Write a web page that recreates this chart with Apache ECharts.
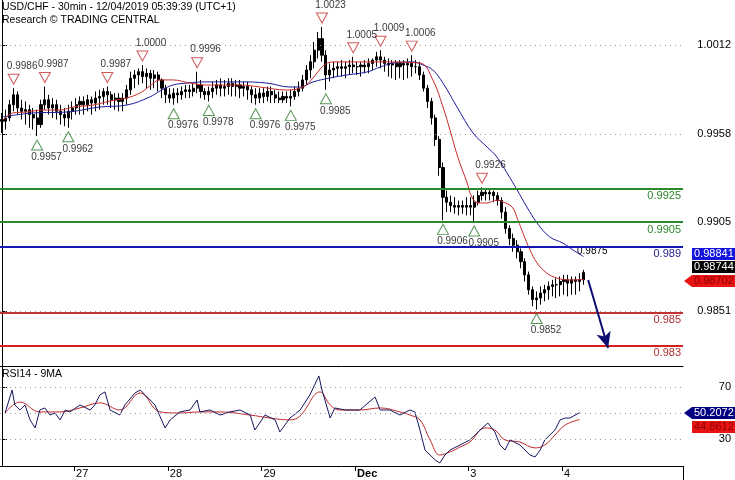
<!DOCTYPE html>
<html><head><meta charset="utf-8">
<script src="https://cdn.jsdelivr.net/npm/echarts@6/dist/echarts.min.js"></script>
<style>html,body{margin:0;padding:0;background:#fff}#c{width:735px;height:480px}</style>
</head><body><div id="c"></div>
<script>
const FONT = 'Liberation Sans, Arial, Helvetica, sans-serif';
const dayLabels = ['27', '28', '29', 'Dec', '3', '4'];
const dayStartSlots = [19, 43, 67, 91, 120, 144];
const slotCount = 175;
const priceTicks = [1.0012, 0.9958, 0.9905, 0.9851];
const rsiTicks = [70, 30];
const rsiGrid = [70, 50, 30];
const levelValues = [0.9925, 0.9905, 0.989, 0.985, 0.983];
// hourly bars: [open, close, low, high]
const ohlc = [
[0.9967,0.9966,0.9959,0.9971],[0.9966,0.9968,0.9961,0.9973],[0.9968,0.9976,0.9966,0.9979],[0.9976,0.9982,0.9972,0.9986],
[0.9982,0.9974,0.9970,0.9984],[0.9974,0.9972,0.9967,0.9979],[0.9972,0.9973,0.9964,0.9978],[0.9973,0.9970,0.9962,0.9976],
[0.9970,0.9968,0.9961,0.9974],[0.9968,0.9964,0.9957,0.9973],[0.9964,0.9976,0.9962,0.9979],[0.9976,0.9979,0.9973,0.9987],
[0.9979,0.9974,0.9970,0.9982],[0.9974,0.9976,0.9968,0.9980],[0.9976,0.9972,0.9967,0.9979],[0.9972,0.9970,0.9964,0.9976],
[0.9970,0.9968,0.9963,0.9974],[0.9968,0.9972,0.9962,0.9976],[0.9972,0.9974,0.9967,0.9978],[0.9974,0.9976,0.9970,0.9980],
[0.9976,0.9978,0.9970,0.9981],[0.9978,0.9976,0.9970,0.9981],[0.9976,0.9979,0.9972,0.9982],[0.9979,0.9977,0.9970,0.9981],
[0.9977,0.9980,0.9972,0.9984],[0.9980,0.9981,0.9973,0.9985],[0.9981,0.9984,0.9976,0.9986],[0.9984,0.9982,0.9976,0.9987],
[0.9982,0.9979,0.9974,0.9984],[0.9979,0.9980,0.9973,0.9983],[0.9980,0.9978,0.9972,0.9983],[0.9978,0.9980,0.9972,0.9983],
[0.9980,0.9985,0.9976,0.9988],[0.9985,0.9992,0.9982,0.9996],[0.9992,0.9994,0.9986,0.9997],[0.9994,0.9996,0.9988,0.9998],
[0.9996,0.9993,0.9989,1.0000],[0.9993,0.9995,0.9986,0.9998],[0.9995,0.9992,0.9985,0.9997],[0.9992,0.9994,0.9986,0.9997],
[0.9994,0.9991,0.9984,0.9996],[0.9991,0.9986,0.9980,0.9992],[0.9986,0.9982,0.9977,0.9988],[0.9982,0.9980,0.9977,0.9986],
[0.9980,0.9983,0.9976,0.9986],[0.9983,0.9982,0.9977,0.9986],[0.9982,0.9984,0.9979,0.9987],[0.9984,0.9985,0.9980,0.9988],
[0.9985,0.9984,0.9980,0.9988],[0.9984,0.9986,0.9981,0.9989],[0.9986,0.9988,0.9983,0.9996],[0.9988,0.9984,0.9980,0.9991],
[0.9984,0.9982,0.9979,0.9986],[0.9982,0.9984,0.9978,0.9987],[0.9984,0.9986,0.9980,0.9990],[0.9986,0.9988,0.9982,0.9991],
[0.9988,0.9986,0.9981,0.9992],[0.9986,0.9987,0.9981,0.9991],[0.9987,0.9989,0.9982,0.9992],[0.9989,0.9987,0.9981,0.9992],
[0.9987,0.9988,0.9981,0.9991],[0.9988,0.9986,0.9980,0.9991],[0.9986,0.9987,0.9981,0.9990],[0.9987,0.9985,0.9979,0.9990],
[0.9985,0.9982,0.9977,0.9987],[0.9982,0.9980,0.9976,0.9986],[0.9980,0.9983,0.9977,0.9986],[0.9983,0.9981,0.9977,0.9986],
[0.9981,0.9984,0.9978,0.9987],[0.9984,0.9982,0.9977,0.9987],[0.9982,0.9980,0.9977,0.9985],[0.9980,0.9979,0.9977,0.9984],
[0.9979,0.9981,0.9977,0.9984],[0.9981,0.9980,0.9977,0.9984],[0.9980,0.9981,0.9975,0.9985],[0.9981,0.9984,0.9979,0.9987],
[0.9984,0.9986,0.9981,0.9990],[0.9986,0.9991,0.9984,0.9994],[0.9991,0.9997,0.9988,1.0000],[0.9997,1.0002,0.9992,1.0006],
[1.0002,1.0009,0.9998,1.0014],[1.0009,1.0016,1.0004,1.0020],[1.0016,1.0006,1.0002,1.0023],[1.0006,0.9994,0.9985,1.0009],
[0.9994,0.9997,0.9990,1.0001],[0.9997,0.9998,0.9992,1.0002],[0.9998,0.9999,0.9993,1.0002],[0.9999,0.9998,0.9993,1.0003],
[0.9998,0.9999,0.9992,1.0002],[0.9999,1.0000,0.9994,1.0003],[1.0000,0.9999,0.9995,1.0005],[0.9999,0.9999,0.9994,1.0002],
[0.9999,1.0000,0.9993,1.0002],[1.0000,0.9999,0.9995,1.0003],[0.9999,1.0001,0.9995,1.0004],[1.0001,1.0003,0.9997,1.0004],
[1.0003,1.0005,0.9999,1.0008],[1.0005,1.0003,0.9998,1.0009],[1.0003,1.0001,0.9996,1.0005],[1.0001,1.0000,0.9993,1.0004],
[1.0000,1.0001,0.9992,1.0003],[1.0001,0.9999,0.9991,1.0003],[0.9999,1.0001,0.9992,1.0003],[1.0001,1.0000,0.9991,1.0003],
[1.0000,1.0001,0.9992,1.0004],[1.0001,0.9999,0.9993,1.0006],[0.9999,0.9999,0.9995,1.0003],[0.9999,0.9994,0.9991,1.0002],
[0.9994,0.9986,0.9984,0.9996],[0.9986,0.9978,0.9974,0.9988],[0.9978,0.9968,0.9964,0.9980],[0.9968,0.9955,0.9951,0.9970],
[0.9955,0.9938,0.9933,0.9957],[0.9938,0.9920,0.9906,0.9941],[0.9920,0.9917,0.9911,0.9924],[0.9917,0.9915,0.9911,0.9921],
[0.9915,0.9914,0.9910,0.9920],[0.9914,0.9915,0.9909,0.9918],[0.9915,0.9914,0.9910,0.9918],[0.9914,0.9915,0.9909,0.9920],
[0.9915,0.9914,0.9909,0.9920],[0.9914,0.9917,0.9905,0.9921],[0.9917,0.9921,0.9915,0.9924],[0.9921,0.9923,0.9918,0.9926],
[0.9923,0.9922,0.9918,0.9925],[0.9922,0.9923,0.9918,0.9925],[0.9923,0.9921,0.9917,0.9924],[0.9921,0.9918,0.9915,0.9923],
[0.9918,0.9911,0.9907,0.9920],[0.9911,0.9901,0.9898,0.9914],[0.9901,0.9895,0.9891,0.9903],[0.9895,0.9891,0.9887,0.9898],
[0.9891,0.9887,0.9883,0.9894],[0.9887,0.9881,0.9877,0.9889],[0.9881,0.9873,0.9869,0.9883],[0.9873,0.9864,0.9861,0.9875],
[0.9864,0.9858,0.9854,0.9866],[0.9858,0.9859,0.9852,0.9863],[0.9859,0.9862,0.9855,0.9866],[0.9862,0.9864,0.9857,0.9867],
[0.9864,0.9866,0.9858,0.9869],[0.9866,0.9867,0.9860,0.9870],[0.9867,0.9867,0.9859,0.9871],[0.9867,0.9869,0.9860,0.9872],
[0.9869,0.9870,0.9861,0.9873],[0.9870,0.9868,0.9860,0.9873],[0.9868,0.9870,0.9861,0.9872],[0.9870,0.9869,0.9861,0.9872],
[0.9869,0.9870,0.9863,0.9874],[0.9870,0.98744,0.9867,0.9876]
];
// moving averages: [hour index, price]
const maFast = [[0.3,0.99667],[2.8,0.99710],[6.4,0.99716],[10.5,0.99728],[14.9,0.99728],[18.2,0.99746],[23.3,0.99758],[27.7,0.99782],[32.0,0.99801],[35.4,0.99831],[37.9,0.99873],[40.5,0.99910],[43.8,0.99910],[48.2,0.99891],[52.5,0.99879],[61.0,0.99879],[66.1,0.99867],[73.0,0.99849],[77.1,0.99867],[79.7,0.99922],[82.3,0.99994],[84.8,1.00019],[89.2,1.00019],[96.9,1.00019],[107.1,1.00012],[110.4,0.99910],[113.0,0.99746],[114.8,0.99607],[116.8,0.99443],[119.2,0.99286],[120.4,0.99201],[122.0,0.99165],[124.3,0.99165],[126.8,0.99183],[128.4,0.99171],[130.7,0.99141],[132.2,0.99062],[133.5,0.98983],[135.3,0.98881],[137.1,0.98802],[139.6,0.98741],[142.2,0.98711],[145.5,0.98699],[149,0.98702]];
const maSlow = [[0.3,0.99686],[8.0,0.99710],[16.7,0.99716],[25.1,0.99746],[32.0,0.99758],[37.9,0.99807],[40.5,0.99843],[43.8,0.99879],[47.4,0.99891],[52.5,0.99898],[61.0,0.99898],[67.9,0.99891],[73.8,0.99867],[76.4,0.99867],[79.7,0.99898],[84.1,0.99922],[88.4,0.99940],[93.5,0.99958],[96.9,0.99988],[100.2,1.00012],[105.3,1.00019],[107.9,1.00000],[110.4,0.99970],[113.0,0.99891],[116.6,0.99746],[120.7,0.99589],[124.3,0.99504],[126.8,0.99444],[129.4,0.99347],[132.0,0.99244],[134.5,0.99141],[137.1,0.99044],[140.4,0.98959],[143.7,0.98923],[146.3,0.98881],[149,0.98841]];
const swingHighs = [[3,0.9986],[11,0.9987],[27,0.9987],[36,1.0000],[50,0.9996],[82,1.0023],[90,1.0005],[97,1.0009],[105,1.0006],[123,0.9926]];
const swingLows = [[9,0.9957],[17,0.9962],[44,0.9976],[53,0.9978],[65,0.9976],[74,0.9975],[83,0.9985],[113,0.9906],[121,0.9905],[137,0.9852]];
const projection = [[150.2,0.98699],[155.3,0.98287]];
const rsi = [[0.8,50.0],[2.6,67.8],[3.3,56.2],[4.6,52.3],[5.9,56.2],[7.2,44.6],[8.5,38.4],[9.7,52.3],[11.0,53.9],[12.3,48.4],[13.6,50.0],[14.9,44.6],[16.2,52.3],[17.4,50.8],[20.0,56.2],[22.6,52.3],[23.8,56.2],[25.1,64.0],[26.4,66.3],[27.7,52.3],[30.2,48.4],[31.5,56.2],[34.1,65.5],[35.4,67.8],[36.7,64.0],[39.2,56.2],[41.8,38.4],[43.1,44.6],[45.6,50.8],[48.2,52.3],[50.0,60.1],[50.7,50.8],[53.3,52.3],[55.9,48.4],[58.4,50.8],[61.0,52.3],[63.6,48.4],[64.8,36.8],[67.4,48.4],[70.0,44.6],[71.2,35.3],[73.8,46.1],[76.4,52.3],[78.9,64.0],[81.2,78.7],[82.0,67.8],[84.1,46.1],[85.3,53.9],[87.9,52.3],[91.7,52.3],[95.6,62.4],[96.9,52.3],[99.4,52.3],[102.0,48.4],[104.5,52.3],[105.8,50.8],[107.1,36.8],[108.4,21.3],[109.7,17.4],[111.0,13.6],[112.2,11.2],[113.5,17.4],[114.8,21.3],[117.4,25.2],[119.9,29.1],[122.5,36.8],[124.5,42.2],[126.3,35.3],[127.6,25.2],[128.9,21.3],[130.2,29.1],[132.7,25.2],[135.3,17.4],[136.6,15.9],[137.9,21.3],[139.1,29.1],[141.7,36.8],[143.0,44.6],[144.3,46.1],[145.5,46.1],[148.0,50.2072]];
const rsiMa = [[0.8,50.0],[4.6,58.5],[9.7,50.8],[14.9,50.8],[20.0,53.9],[25.1,57.8],[30.2,52.3],[35.4,65.5],[40.5,50.8],[45.6,50.0],[50.7,50.8],[55.9,50.8],[63.6,48.4],[68.7,46.1],[73.8,44.6],[76.4,47.7],[81.5,66.3],[84.1,56.2],[86.6,52.3],[91.7,52.3],[96.9,53.9],[102.0,50.8],[104.5,48.4],[107.1,44.6],[109.7,29.1],[112.2,17.4],[114.8,19.8],[117.4,23.6],[119.9,27.5],[123.8,38.4],[126.3,36.8],[128.9,29.1],[132.7,27.5],[136.6,22.9],[139.1,25.2],[141.7,32.9],[144.3,40.7],[148.0,44.8612]];
const lastValues = {maSlow:'0.98841', close:'0.98744', maFast:'0.98702', rsi:'50.2072', rsiMa:'44.8612'};

const categories = [];
for (let i = 0; i < slotCount; i++) categories.push('s' + i);
const isDayStart = (idx) => dayStartSlots.indexOf(idx) >= 0;

const levelStyle = [
  {line:'#2a8a2a', text:'#2a8a2a'},
  {line:'#2a8a2a', text:'#2a8a2a'},
  {line:'#1616b4', text:'#1c1c8c'},
  {line:'#c23434', text:'#b03030'},
  {line:'#d62020', text:'#b03030'}
];

const chart = echarts.init(document.getElementById('c'), null, {renderer:'canvas'});
const yMin = 0.981784, yMax = 1.003938;
const option = {
  animation: false,
  textStyle: {fontFamily: FONT},
  grid: [
    {left:0, top:0, width:683, height:366, containLabel:false},
    {left:0, top:366, width:683, height:100, containLabel:false}
  ],
  xAxis: [
    {type:'category', gridIndex:0, data:categories, boundaryGap:true,
     axisLine:{show:true, lineStyle:{color:'#000', width:1}}, axisTick:{show:false}, axisLabel:{show:false}, splitLine:{show:false}},
    {type:'value', gridIndex:0, min:-0.5, max:slotCount-0.5, show:false},
    {type:'category', gridIndex:1, data:categories, boundaryGap:true,
     axisLine:{show:true, lineStyle:{color:'#000', width:1}},
     axisTick:{show:true, length:5, interval:(i)=>isDayStart(i), lineStyle:{color:'#000'}},
     axisLabel:{show:true, interval:(i)=>isDayStart(i), align:'left', margin:2, fontSize:11, color:'#000', fontFamily:FONT,
       formatter:(v, i)=>{ const k = dayStartSlots.indexOf(i); if (k < 0) return ''; const t = dayLabels[k]; return t === 'Dec' ? '{b|' + t + '}' : t; },
       rich:{b:{fontWeight:'bold', fontSize:11, color:'#000', fontFamily:FONT}}},
     splitLine:{show:false}},
    {type:'value', gridIndex:1, min:-0.5, max:slotCount-0.5, show:false}
  ],
  yAxis: [
    {type:'value', gridIndex:0, position:'right', min:yMin, max:yMax,
     axisLine:{show:true, lineStyle:{color:'#000'}},
     axisTick:{show:true, length:5, customValues:priceTicks, lineStyle:{color:'#000'}},
     axisLabel:{show:true, customValues:priceTicks, formatter:(v)=>v.toFixed(4), align:'right', margin:48, fontSize:11, color:'#000', fontFamily:FONT},
     splitLine:{show:false}},
    {type:'value', gridIndex:1, position:'right', min:8.9, max:86.4,
     axisLine:{show:true, lineStyle:{color:'#000'}},
     axisTick:{show:true, length:5, customValues:rsiTicks, lineStyle:{color:'#000'}},
     axisLabel:{show:true, customValues:rsiTicks, formatter:(v)=>String(Math.round(v)), align:'right', margin:48, fontSize:11, color:'#000', fontFamily:FONT},
     splitLine:{show:false}}
  ],
  series: [
    {type:'line', xAxisIndex:1, yAxisIndex:0, data:[], z:1, silent:true,
     markLine:{silent:true, precision:6, symbol:['none','none'], animation:false,
       lineStyle:{type:[1,4], color:'#9a9a9a', width:1}, label:{show:false},
       data: priceTicks.map(v=>({yAxis:v}))}},
    {type:'candlestick', xAxisIndex:0, yAxisIndex:0, data:ohlc, barWidth:2.6, z:3, silent:true,
     itemStyle:{color:'#000', color0:'#000', borderColor:'#000', borderColor0:'#000', borderWidth:1}},
    {type:'line', xAxisIndex:1, yAxisIndex:0, data:maSlow, smooth:0.4, showSymbol:false, z:4, silent:true,
     lineStyle:{color:'#1c1c9c', width:1}},
    {type:'line', xAxisIndex:1, yAxisIndex:0, data:maFast, smooth:0.4, showSymbol:false, z:4, silent:true,
     lineStyle:{color:'#c82a2a', width:1}},
    {type:'line', xAxisIndex:1, yAxisIndex:0, data:[], z:5, silent:true,
     markLine:{silent:true, precision:6, symbol:['none','none'], animation:false,
       data: levelValues.map((v, k)=>({yAxis:v,
         lineStyle:{color:levelStyle[k].line, width:2, type:'solid'},
         label:{show:true, position:'insideEndBottom', distance:2, formatter:String(v), color:levelStyle[k].text, fontSize:11, fontFamily:FONT}}))}},
    {type:'line', xAxisIndex:1, yAxisIndex:0, data:[], z:6, silent:true,
     markLine:{silent:true, precision:6, symbol:['none','arrow'], symbolSize:[11,16], animation:false,
       lineStyle:{color:'#0c0c70', width:2, type:'solid'}, label:{show:false},
       data:[[{coord:projection[0]},{coord:projection[1]}]]}},
    {type:'scatter', xAxisIndex:0, yAxisIndex:0, data:swingHighs, symbol:'triangle', symbolRotate:180, symbolSize:[11,10], symbolOffset:[0,-9], z:7, silent:true,
     itemStyle:{color:'#fff', borderColor:'#c43030', borderWidth:1}},
    {type:'scatter', xAxisIndex:0, yAxisIndex:0, data:swingLows, symbol:'triangle', symbolSize:[11,10], symbolOffset:[0,9], z:7, silent:true,
     itemStyle:{color:'#fff', borderColor:'#2a7a2a', borderWidth:1}},
    {type:'scatter', xAxisIndex:0, yAxisIndex:0, data:swingHighs, symbol:'circle', symbolSize:1, z:8, silent:true,
     itemStyle:{color:'rgba(0,0,0,0)'},
     label:{show:true, position:'inside', offset:[8.5,-22], formatter:(p)=>p.value[1].toFixed(4), color:'#000', fontSize:10, fontFamily:FONT}},
    {type:'scatter', xAxisIndex:0, yAxisIndex:0, data:swingLows, symbol:'circle', symbolSize:1, z:8, silent:true,
     itemStyle:{color:'rgba(0,0,0,0)'},
     label:{show:true, position:'inside', offset:[9.5,21], formatter:(p)=>p.value[1].toFixed(4), color:'#000', fontSize:10, fontFamily:FONT}},
    {type:'line', xAxisIndex:3, yAxisIndex:1, data:[], z:1, silent:true,
     markLine:{silent:true, precision:6, symbol:['none','none'], animation:false,
       lineStyle:{type:[1,4], color:'#9a9a9a', width:1}, label:{show:false},
       data: rsiGrid.map(v=>({yAxis:v}))}},
    {type:'line', xAxisIndex:3, yAxisIndex:1, data:rsiMa, smooth:0.4, showSymbol:false, z:3, silent:true,
     lineStyle:{color:'#c02a2a', width:1}},
    {type:'line', xAxisIndex:3, yAxisIndex:1, data:rsi, showSymbol:false, z:4, silent:true,
     lineStyle:{color:'#16165e', width:1}}
  ],
  graphic: [
    {type:'text', left:2, top:2, style:{text:'USD/CHF - 30min - 12/04/2019 05:39:39 (UTC+1)', font:'10.5px ' + FONT, fill:'#000'}},
    {type:'text', left:2, top:15, style:{text:'Research \u00A9 TRADING CENTRAL', font:'10.5px ' + FONT, fill:'#000'}},
    {type:'text', left:2, top:369, style:{text:'RSI14 - 9MA', font:'10.5px ' + FONT, fill:'#000'}},
    {type:'text', left:577, top:246, style:{text:'0.9875', font:'10px ' + FONT, fill:'#000'}},
    {type:'line', shape:{x1:683.5, y1:466, x2:683.5, y2:480}, style:{stroke:'#000', lineWidth:1}},
    {type:'rect', shape:{x:692, y:248, width:43, height:12}, style:{fill:'#1414dc'}},
    {type:'text', x:694, y:248, style:{text:lastValues.maSlow, font:'11px ' + FONT, fill:'#fff'}},
    {type:'rect', shape:{x:692, y:261, width:43, height:12}, style:{fill:'#000'}},
    {type:'text', x:694, y:261, style:{text:lastValues.close, font:'11px ' + FONT, fill:'#fff'}},
    {type:'polygon', shape:{points:[[684,281],[692,275],[735,275],[735,287],[692,287]]}, style:{fill:'#e81414'}},
    {type:'text', x:694, y:275, style:{text:lastValues.maFast, font:'11px ' + FONT, fill:'#8c0000'}},
    {type:'polygon', shape:{points:[[684,413],[692,407],[735,407],[735,419],[692,419]]}, style:{fill:'#000080'}},
    {type:'text', x:694, y:407, style:{text:lastValues.rsi, font:'11px ' + FONT, fill:'#fff'}},
    {type:'rect', shape:{x:692, y:421, width:43, height:12}, style:{fill:'#e81414'}},
    {type:'text', x:694, y:421, style:{text:lastValues.rsiMa, font:'11px ' + FONT, fill:'#8c0000'}}
  ]
};
chart.setOption(option);
</script>
</body></html>
